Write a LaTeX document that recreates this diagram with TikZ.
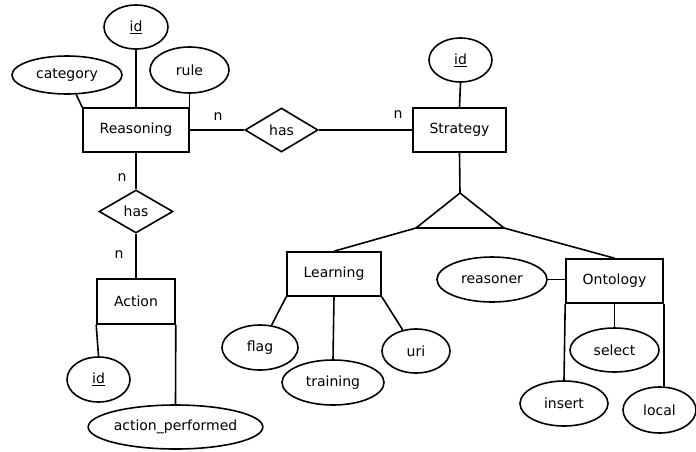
\documentclass[tikz,border=0pt]{standalone}
\usepackage{fontspec}
\setmainfont{DejaVu Sans}
\usetikzlibrary{shapes.geometric}
\begin{document}
\begin{tikzpicture}[x=1pt,y=-1pt,
  every node/.style={font=\fontsize{14}{16}\selectfont, inner sep=0pt},
  ent/.style={draw, rectangle, line width=1.6pt},
  attr/.style={draw, ellipse, line width=1.6pt},
  rel/.style={draw, diamond, line width=1.6pt},
  lnk/.style={line width=1.6pt},
  card/.style={}]
\useasboundingbox (0,0) rectangle (696,451);
% entities
\node[ent, minimum width=106pt, minimum height=44pt] (reas) at (136,130) {Reasoning};
\node[ent, minimum width=93pt, minimum height=44pt] (strat) at (459.5,130) {Strategy};
\node[ent, minimum width=78pt, minimum height=45pt] (act) at (136,301.5) {Action};
\node[ent, minimum width=94pt, minimum height=44pt] (learn) at (334,274) {Learning};
\node[ent, minimum width=97pt, minimum height=44pt] (onto) at (614.5,281) {Ontology};
% relationships
\node[rel, minimum width=73pt, minimum height=44pt, aspect=1.66] (has1) at (281.5,130) {has};
\node[rel, minimum width=74pt, minimum height=43pt, aspect=1.72] (has2) at (136,211.5) {has};
% attributes
\node[attr, minimum width=64pt, minimum height=44pt] (id1) at (136,27) {\underline{id}};
\node[attr, minimum width=110pt, minimum height=38pt] (cat) at (67,75) {category};
\node[attr, minimum width=79pt, minimum height=46pt] (rule) at (189.5,70) {rule};
\node[attr, minimum width=63pt, minimum height=44pt] (id2) at (460.5,60) {\underline{id}};
\node[attr, minimum width=63pt, minimum height=45pt] (id3) at (98.5,379.5) {\underline{id}};
\node[attr, minimum width=173pt, minimum height=44pt] (ap) at (175.5,427) {action\_performed};
\node[attr, minimum width=76pt, minimum height=45pt] (flag) at (260,347.5) {flag};
\node[attr, minimum width=102pt, minimum height=45pt] (train) at (333,382.5) {training};
\node[attr, minimum width=68pt, minimum height=44pt] (uri) at (416,351) {uri};
\node[attr, minimum width=110pt, minimum height=45pt] (reasoner) at (492,279.5) {reasoner};
\node[attr, minimum width=89pt, minimum height=44pt] (sel) at (614.5,350) {select};
\node[attr, minimum width=88pt, minimum height=45pt] (ins) at (564,403.5) {insert};
\node[attr, minimum width=73pt, minimum height=46pt] (loc) at (659.5,410) {local};
% ISA triangle
\coordinate (tA) at (460,193);
\coordinate (tL) at (416,228);
\coordinate (tR) at (504,228);
\draw[lnk, line join=miter] (tA) -- (tL) -- (tR) -- cycle;
% connectors
\draw[lnk] (cat) -- (reas.north west);
\draw[lnk] (id1.south) -- (reas.north);
\draw[lnk] (rule.south) -- (rule.south |- reas.north);
\draw[lnk] (reas.east) -- (has1.west);
\draw[lnk] (has1.east) -- (strat.west);
\draw[lnk] (id2.south) -- (strat.north);
\draw[lnk] (reas.south) -- (has2.north);
\draw[lnk] (has2.south) -- (act.north);
\draw[lnk] (act.south west) -- (id3.north);
\draw[lnk] (act.south east) -- (ap.north);
\draw[lnk] (strat.south) -- (tA);
\draw[lnk] (tL) -- (learn.north);
\draw[lnk] (tR) -- (onto.north);
\draw[lnk] (learn.south west) -- (flag);
\draw[lnk] (learn.south) -- (train.north);
\draw[lnk] (learn.south east) -- (uri);
\draw[lnk] (reasoner.east) -- (reasoner.east -| onto.west);
\draw[lnk] (onto.south) -- (sel.north);
\draw[lnk] (onto.south west) -- (ins.north);
\draw[lnk] (onto.south east) -- (onto.south east |- loc.north);
% cardinalities
\node[card] (n1) at (218,117) {n};
\node[card] (n2) at (398,115) {n};
\node[card] (n3) at (122,178) {n};
\node[card] (n4) at (119,255) {n};
\end{tikzpicture}
\end{document}
